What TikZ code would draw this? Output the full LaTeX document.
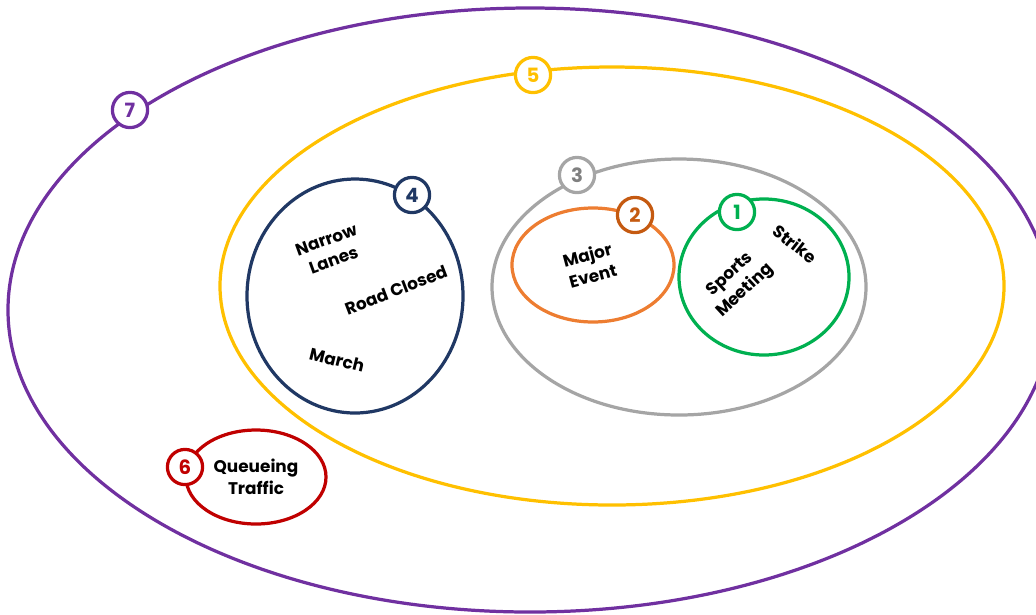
\documentclass[tikz,border=0pt]{standalone}
\usepackage{fontspec}
\setmainfont{Poppins}
\usetikzlibrary{positioning}

\definecolor{ringseven}{HTML}{7030A0}
\definecolor{ringfive}{HTML}{FFC000}
\definecolor{ringthree}{HTML}{A5A5A5}
\definecolor{ringfour}{HTML}{203864}
\definecolor{ringtwo}{HTML}{ED7D31}
\definecolor{badgetwo}{HTML}{C55A11}
\definecolor{ringone}{HTML}{00B050}
\definecolor{ringsix}{HTML}{C00000}

\begin{document}
\begin{tikzpicture}[x=0.025cm, y=-0.025cm,
    ring/.style={line width=2.3pt},
    badge/.style={circle, draw, fill=white, line width=2.3pt, minimum size=0.88cm,
                  inner sep=0pt, font=\fontsize{14pt}{16pt}\selectfont\bfseries},
    lbl/.style={align=center, inner sep=1pt, font=\fontsize{12pt}{15.5pt}\selectfont\bfseries}]

    % page size of the reference
    \clip (0,0) rectangle (1036,614);

    % rings, outer to inner
    \draw[ring, ringseven] (530,310) ellipse [x radius=522, y radius=302];
    \draw[ring, ringfive]  (612,286) ellipse [x radius=392, y radius=219];
    \draw[ring, ringthree] (679,287) ellipse [x radius=187, y radius=128];
    \draw[ring, ringfour]  (355,296) ellipse [x radius=108, y radius=117];
    \draw[ring, ringtwo]   (593,265) ellipse [x radius=81,  y radius=57];
    \draw[ring, ringone]   (764,277) ellipse [x radius=85,  y radius=78];
    \draw[ring, ringsix]   (256,477) ellipse [x radius=70,  y radius=47];

    % numbered badges
    \node[badge, draw=ringseven, text=ringseven] (b7) at (130,110) {7};
    \node[badge, draw=ringfive,  text=ringfive]  (b5) at (533,75)  {5};
    \node[badge, draw=ringthree, text=gray]      (b3) at (577,175) {3};
    \node[badge, draw=ringfour,  text=ringfour]  (b4) at (412,195) {4};
    \node[badge, draw=badgetwo,  text=badgetwo]  (b2) at (635,215) {2};
    \node[badge, draw=ringone,   text=ringone]   (b1) at (737,212) {1};
    \node[badge, draw=ringsix,   text=ringsix]   (b6) at (185,467) {6};

    % labels
    \node[lbl, rotate=20]  (narrow)  at (330,250) {Narrow\\Lanes};
    \node[lbl, rotate=21]  (closed)  at (396,290) {Road Closed};
    \node[lbl, rotate=-14] (march)   at (337,360) {March};
    \node[lbl, rotate=15]  (major)   at (590,265) {Major\\Event};
    \node[lbl, rotate=43]  (sports)  at (738,283) {Sports\\Meeting};
    \node[lbl, rotate=-38] (strike)  at (795,244) {Strike};
    \node[lbl]             (queue)   at (256,477) {Queueing\\Traffic};

\end{tikzpicture}
\end{document}
